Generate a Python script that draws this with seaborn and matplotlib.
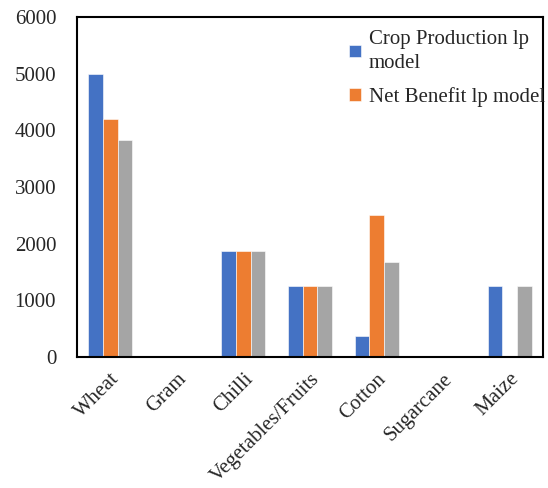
import matplotlib
matplotlib.use("Agg")
import matplotlib.pyplot as plt
import seaborn as sns
import pandas as pd

crops = ["Wheat", "Gram", "Chilli", "Vegetables/Fruits", "Cotton", "Sugarcane", "Maize"]
crop_production = [5000, 0, 1875, 1250, 375, 0, 1250]
net_benefit = [4200, 0, 1875, 1250, 2500, 0, 0]
energy_model = [3835, 0, 1875, 1250, 1670, 0, 1250]
series_names = ["Crop Production lp\nmodel", "Net Benefit lp model", "Energy lp model"]
y_ticks = [0, 1000, 2000, 3000, 4000, 5000, 6000]

rows = []
for name, vals in zip(series_names, [crop_production, net_benefit, energy_model]):
    for c, v in zip(crops, vals):
        rows.append({"crop": c, "value": v, "series": name})
df = pd.DataFrame(rows)

sns.set_style("white")
plt.rcParams["font.family"] = ["Liberation Serif", "DejaVu Serif"]

fig = plt.figure(figsize=(5.48, 4.88), dpi=100)
ax = fig.add_axes([0.1405, 0.2684, 0.8505, 0.6966])

palette = ["#4472C4", "#ED7D31", "#A5A5A5"]
sns.barplot(data=df, x="crop", y="value", hue="series", order=crops,
            hue_order=series_names, palette=palette, width=0.66, gap=0,
            saturation=1, edgecolor="white", linewidth=0.4, ax=ax)

ax.set_ylim(0, 6000)
ax.set_xlim(-0.5, len(crops) - 0.5)
ax.set_yticks(y_ticks)
ax.set_yticklabels([str(t) for t in y_ticks], fontsize=15)
ax.set_xlabel("")
ax.set_ylabel("")
ax.tick_params(axis="y", length=0, pad=15)
ax.tick_params(axis="x", length=0, pad=9)
plt.setp(ax.get_xticklabels(), rotation=45, ha="right", rotation_mode="anchor", fontsize=15)
for lbl in ax.get_xticklabels():
    lbl.set_x(lbl.get_position()[0])

for s in ax.spines.values():
    s.set_visible(True)
    s.set_color("black")
    s.set_linewidth(1.5)

handles, labels = ax.get_legend_handles_labels()
leg = ax.legend(handles[:2], labels[:2], loc="upper left", bbox_to_anchor=(0.575, 0.975),
                frameon=False, fontsize=15, handlelength=0.55, handleheight=0.55,
                handletextpad=0.4, labelspacing=0.65, borderaxespad=0, borderpad=0.2)
for t in leg.get_texts():
    t.set_linespacing(1.4)

fig.savefig("out.png", dpi=100)
